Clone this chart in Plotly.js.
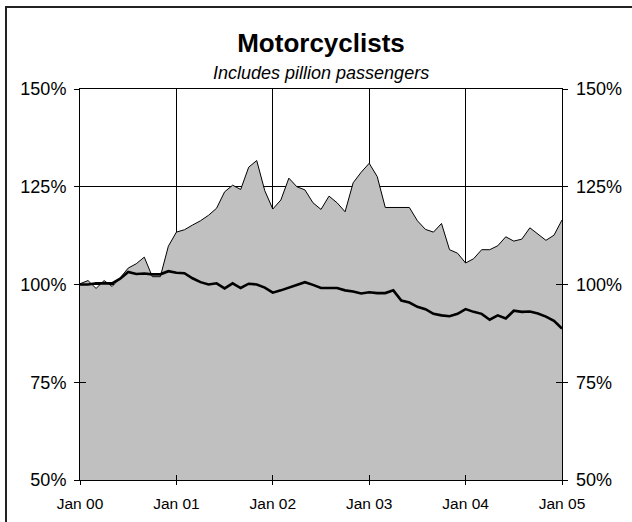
<!DOCTYPE html>
<html>
<head>
<meta charset="utf-8">
<script src="https://cdn.plot.ly/plotly-3.0.1.min.js"></script>
<style>
  html, body { margin: 0; padding: 0; background: #fff; overflow: hidden; }
  #chart { width: 632px; height: 522px; }
  #frame { position: absolute; left: 5px; top: 6px; width: 700px; height: 600px;
           border: 2px solid #222; pointer-events: none; box-sizing: border-box; }
</style>
</head>
<body>
<div id="chart"></div>
<div id="frame"></div>
<script>
// Monthly values, Jan 2000 .. Jan 2005 (index relative to Jan 2000 = 100%)
var upperSeries = [
  100.2, 101.0, 99.0, 101.0, 99.5, 101.7, 104.2, 105.3, 107.0, 102.0, 102.0, 109.8,
  113.4, 114.0, 115.2, 116.3, 117.7, 119.5, 123.7, 125.4, 124.3, 130.0, 131.7, 124.0,
  119.3, 121.6, 127.2, 125.0, 124.2, 120.9, 119.2, 122.6, 120.9, 118.6, 126.0, 128.7,
  131.0, 127.6, 119.7, 119.7, 119.7, 119.7, 116.3, 114.1, 113.4, 115.6, 108.9, 108.0,
  105.5, 106.6, 108.9, 108.9, 109.9, 112.2, 111.1, 111.6, 114.5, 112.9, 111.3, 112.6,
  116.5
];
var lineSeries = [
  100.0, 100.0, 100.3, 100.3, 100.3, 101.5, 103.2, 102.7, 102.8, 102.6, 102.6, 103.4,
  103.0, 102.9, 101.6, 100.6, 100.0, 100.3, 99.0, 100.3, 99.1, 100.2, 100.0, 99.2,
  97.9, 98.5, 99.2, 99.7, 100.6, 99.9, 99.1, 99.1, 99.1, 98.5, 98.2, 97.7,
  98.0, 97.8, 97.8, 98.5, 95.9, 95.4, 94.3, 93.7, 92.5, 92.1, 91.9, 92.5,
  93.7, 93.0, 92.5, 91.0, 92.1, 91.3, 93.3, 93.0, 93.1, 92.6, 91.8, 90.7,
  88.7
];
var xTickPositions = [0, 12, 24, 36, 48, 60];
var xTickLabels = ['Jan 00', 'Jan 01', 'Jan 02', 'Jan 03', 'Jan 04', 'Jan 05'];
var yTickValues = [50, 75, 100, 125, 150];
var yTickLabels = ['50%', '75%', '100%', '125%', '150%'];
var titleText = 'Motorcyclists';
var subtitleText = 'Includes pillion passengers';

var monthIndex = upperSeries.map(function (_, i) { return i; });
var FONT = 'Liberation Sans, Arial, Helvetica, sans-serif';

var traces = [
  {
    x: monthIndex, y: upperSeries, type: 'scatter', mode: 'lines',
    fill: 'tozeroy', fillcolor: '#C0C0C0',
    line: { color: '#000', width: 1 },
    hoverinfo: 'skip', showlegend: false
  },
  {
    x: monthIndex, y: lineSeries, type: 'scatter', mode: 'lines',
    xaxis: 'x2', yaxis: 'y2',
    line: { color: '#000', width: 2.6 },
    hoverinfo: 'skip', showlegend: false
  }
];

var layout = {
  width: 632, height: 522,
  margin: { l: 80, r: 70, t: 89, b: 42, pad: 0 },
  paper_bgcolor: '#fff', plot_bgcolor: '#fff',
  showlegend: false,
  font: { family: FONT, color: '#000' },
  title: {
    text: '<b>' + titleText + '</b>',
    font: { family: FONT, size: 26, color: '#000' },
    x: 0.5, xref: 'paper', xanchor: 'center',
    y: 1 - 42.5 / 522, yref: 'container', yanchor: 'middle'
  },
  annotations: [{
    text: '<i>' + subtitleText + '</i>',
    xref: 'paper', yref: 'paper', x: 0.5, y: 1 + (89 - 72.5) / 391,
    xanchor: 'center', yanchor: 'middle', showarrow: false,
    font: { family: FONT, size: 18, color: '#000' }
  }],
  xaxis: {
    range: [0, 60], fixedrange: true,
    tickmode: 'array', tickvals: xTickPositions, ticktext: xTickLabels,
    ticks: 'outside', ticklen: 4, tickwidth: 1, tickcolor: '#000',
    showline: true, linecolor: '#000', linewidth: 1, mirror: true,
    showgrid: true, gridcolor: '#000', gridwidth: 1,
    zeroline: false,
    tickfont: { family: FONT, size: 15.5, color: '#000' },
    ticklabelstandoff: 5
  },
  xaxis2: {
    range: [0, 60], overlaying: 'x', fixedrange: true,
    tickmode: 'array', tickvals: xTickPositions, ticktext: xTickLabels,
    ticks: 'inside', ticklen: 5, tickwidth: 1, tickcolor: '#000',
    showticklabels: false, showgrid: false, zeroline: false, showline: false
  },
  yaxis: {
    range: [50, 150], fixedrange: true,
    tickmode: 'array', tickvals: yTickValues, ticktext: yTickLabels,
    ticks: 'outside', ticklen: 5, tickwidth: 1, tickcolor: '#000',
    showline: true, linecolor: '#000', linewidth: 1, mirror: 'allticks',
    showgrid: true, gridcolor: '#000', gridwidth: 1,
    zeroline: false,
    tickfont: { family: FONT, size: 18, color: '#000' },
    ticklabelstandoff: 4
  },
  yaxis2: {
    range: [50, 150], overlaying: 'y', side: 'right', fixedrange: true,
    tickmode: 'array', tickvals: yTickValues, ticktext: yTickLabels,
    ticks: 'inside', ticklen: 6, tickwidth: 1, tickcolor: '#000',
    mirror: 'allticks', showline: false,
    showgrid: false, zeroline: false,
    tickfont: { family: FONT, size: 18, color: '#000' },
    ticklabelstandoff: 13
  }
};

Plotly.newPlot('chart', traces, layout, { staticPlot: true, displayModeBar: false });
</script>
</body>
</html>
